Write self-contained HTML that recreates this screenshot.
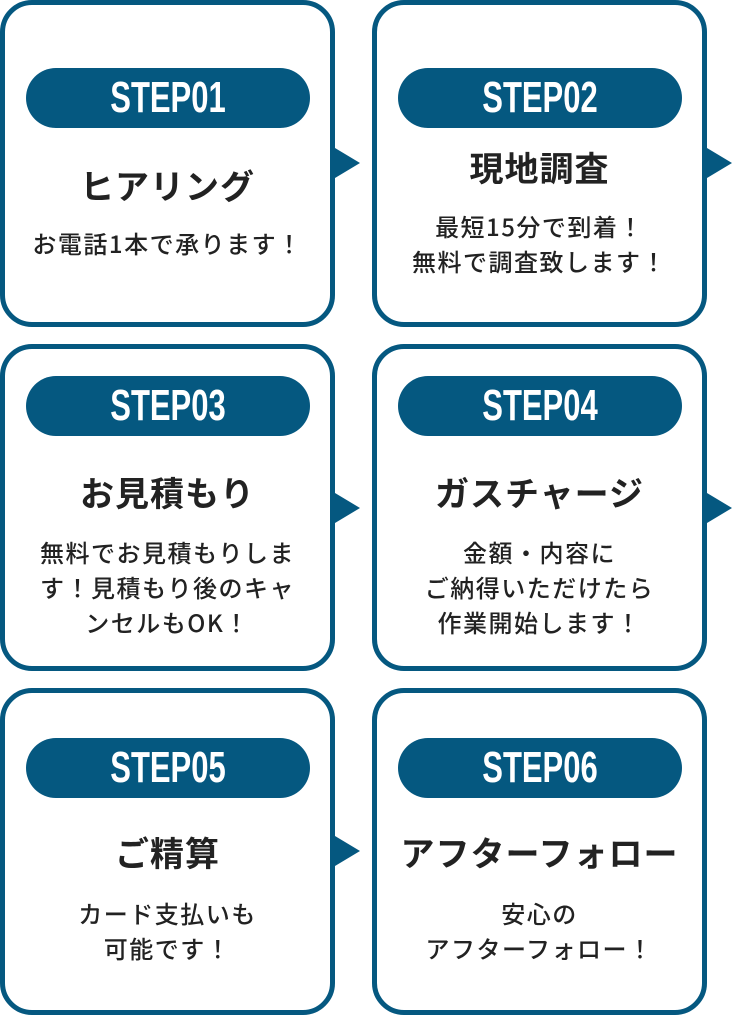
<!DOCTYPE html><html><head><meta charset="utf-8"><style>
body{margin:0;width:732px;height:1016px;background:#fff;position:relative;overflow:hidden;font-family:"Noto Sans CJK JP","Liberation Sans",sans-serif;}
.c{position:absolute;width:335px;height:327px;box-sizing:border-box;border:5px solid #055880;border-radius:32px;background:#fff;}
.p{position:absolute;left:21px;width:284px;top:63px;height:60px;border-radius:30px;background:#055880;color:#fff;text-align:center;font-family:"Liberation Sans Narrow","Liberation Sans",sans-serif;font-weight:bold;font-size:31px;line-height:60px;}
.p span{display:inline-block;transform:scaleY(1.4);}
.t{position:absolute;left:0;right:0;text-align:center;font-weight:bold;font-size:34px;color:#222;line-height:40px;letter-spacing:1px;}
.b{position:absolute;left:0;right:0;text-align:center;font-size:24px;font-weight:500;color:#222;line-height:35px;letter-spacing:1.5px;}
.a{position:absolute;width:0;height:0;border-top:15px solid transparent;border-bottom:15px solid transparent;border-left:25px solid #055880;}
</style></head><body>
<div class="c" style="left:0;top:0"><div class="p"><span>STEP01</span></div><div class="t" style="top:160px">ヒアリング</div><div class="b" style="top:220px">お電話1本で承ります！</div></div>
<div class="c" style="left:372px;top:0"><div class="p"><span>STEP02</span></div><div class="t" style="top:142px">現地調査</div><div class="b" style="top:203px">最短15分で到着！<br>無料で調査致します！</div></div>
<div class="c" style="left:0;top:344px"><div class="p" style="top:27px"><span>STEP03</span></div><div class="t" style="top:123px">お見積もり</div><div class="b" style="top:185px">無料でお見積もりしま<br>す！見積もり後のキャ<br>ンセルもOK！</div></div>
<div class="c" style="left:372px;top:344px"><div class="p" style="top:27px"><span>STEP04</span></div><div class="t" style="top:123px">ガスチャージ</div><div class="b" style="top:185px">金額・内容に<br>ご納得いただけたら<br>作業開始します！</div></div>
<div class="c" style="left:0;top:688px"><div class="p" style="top:45px"><span>STEP05</span></div><div class="t" style="top:139px">ご精算</div><div class="b" style="top:202px">カード支払いも<br>可能です！</div></div>
<div class="c" style="left:372px;top:688px"><div class="p" style="top:45px"><span>STEP06</span></div><div class="t" style="top:139px">アフターフォロー</div><div class="b" style="top:202px">安心の<br>アフターフォロー！</div></div>
<div class="a" style="left:335px;top:148px"></div>
<div class="a" style="left:707px;top:148px"></div>
<div class="a" style="left:335px;top:493px"></div>
<div class="a" style="left:707px;top:493px"></div>
<div class="a" style="left:335px;top:836px"></div>
</body></html>
